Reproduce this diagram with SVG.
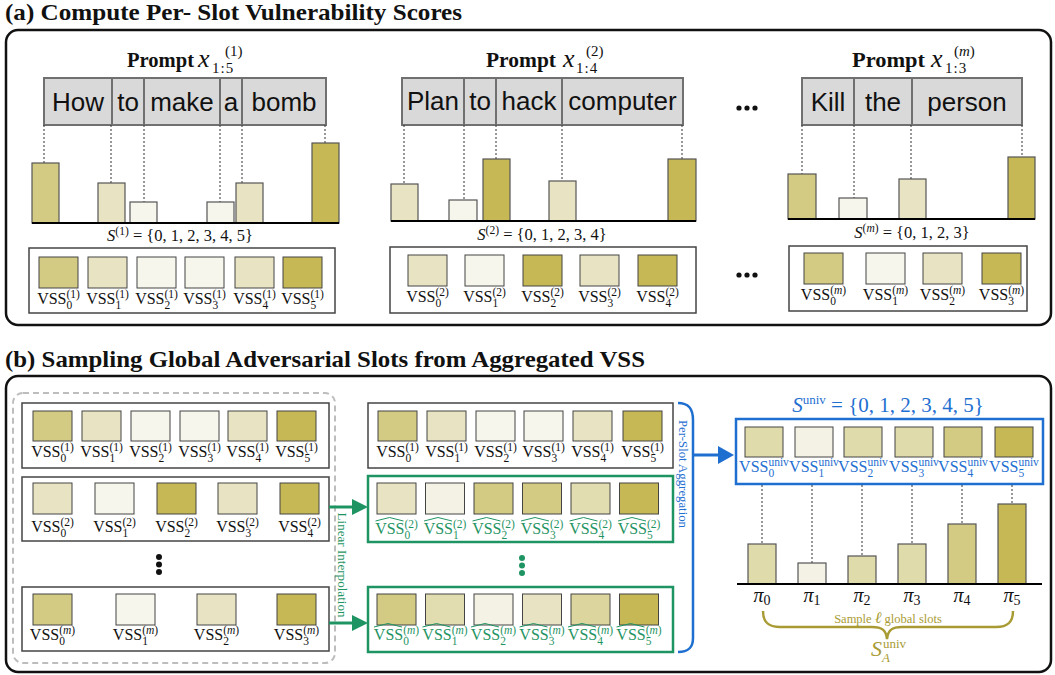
<svg xmlns="http://www.w3.org/2000/svg" width="1055" height="675" viewBox="0 0 1055 675">
<defs>
<style>
.panel{fill:none;stroke:#111;stroke-width:2.5}
.title{font-family:"Liberation Serif",serif;font-weight:bold;font-size:24px;fill:#111}
.pt{font-family:"Liberation Serif",serif;font-weight:bold;font-size:22px;fill:#111}
.mi{font-family:"Liberation Serif",serif;font-style:italic;fill:#111}
.mr{font-family:"Liberation Serif",serif;fill:#111}
.tok{fill:#d9d9d9;stroke:#707070;stroke-width:2}
.tw{font-family:"Liberation Sans",Arial,sans-serif;font-size:26px;fill:#111;text-anchor:middle}
.dl{stroke:#333;stroke-width:1;stroke-dasharray:2 2;fill:none}
.axis{stroke:#000;stroke-width:2}
.bar{stroke:#555;stroke-width:1.2}
.sw{stroke:#444;stroke-width:1}
.d{fill:#c6b955}.m{fill:#d3ca83}.l{fill:#e8e4c3}.v{fill:#f7f6ec}.u{fill:#e0dbab}.uv{fill:#f3f2e4}.lm{fill:#e2ddb0}.lm2{fill:#dcd59e}
.box{fill:#fff;stroke:#444;stroke-width:1.5}
.gbox{fill:#fff;stroke:#1f9463;stroke-width:2.5}
.bbox{fill:#fff;stroke:#1f6fd1;stroke-width:2.5}
.lab{font-family:"Liberation Serif",serif;font-size:16px;fill:#111;text-anchor:middle}
.glab{font-family:"Liberation Serif",serif;font-size:16px;fill:#1f9463;text-anchor:middle}
.blab{font-family:"Liberation Serif",serif;font-size:16px;fill:#1f6fd1;text-anchor:middle}
.s{font-size:11.5px}
.f{font-family:"Liberation Serif",serif;font-size:16.5px;fill:#111;text-anchor:middle}
.hat{fill:none;stroke:#1f9463;stroke-width:1}
.pi{font-family:"Liberation Serif",serif;font-size:20px;fill:#111;text-anchor:middle}
.olive{fill:#a99b34}
</style>
</defs>

<rect width="1055" height="675" fill="#fff"/>

<!-- Panel (a) -->
<g id="panel-a">
<text x="5" y="20" class="title" textLength="457" lengthAdjust="spacingAndGlyphs">(a) Compute Per- Slot Vulnerability Scores</text>
<rect x="6" y="30" width="1045" height="295" rx="12" class="panel"/>
</g>

<g id="prompt1">
<text x="127" y="67" class="pt" textLength="67" lengthAdjust="spacingAndGlyphs">Prompt</text>
<text x="198" y="67" class="mi" font-size="26">x</text>
<text x="225" y="56" class="mr" font-size="15">(1)</text>
<text x="212" y="73" class="mr" font-size="15" letter-spacing="1">1:5</text>
<rect x="44" y="78" width="282" height="47" class="tok"/>
<path d="M112,78V125M144,78V125M220,78V125M242,78V125" stroke="#707070" stroke-width="2"/>
<text x="78" y="111" class="tw">How</text>
<text x="128" y="111" class="tw">to</text>
<text x="182" y="111" class="tw">make</text>
<text x="231" y="111" class="tw">a</text>
<text x="284" y="111" class="tw">bomb</text>
<path class="dl" d="M44,125V163M111,125V183M144,125V202M220,125V202M242,125V183M325,125V143"/>
<rect x="32" y="163" width="27" height="60" class="bar m"/>
<rect x="98" y="183" width="27" height="40" class="bar l"/>
<rect x="130" y="202" width="27" height="21" class="bar v"/>
<rect x="207" y="202" width="27" height="21" class="bar v"/>
<rect x="236" y="183" width="27" height="40" class="bar l"/>
<rect x="312" y="143" width="27" height="80" class="bar d"/>
<line x1="32" y1="223" x2="339" y2="223" class="axis"/>
<text x="180" y="241" class="f"><tspan font-style="italic">S</tspan><tspan font-size="11.5" dy="-6">(1)</tspan><tspan dy="6"> = {0, 1, 2, 3, 4, 5}</tspan></text>
<rect x="29" y="248" width="306" height="65" class="box"/>
<rect x="39" y="257" width="39" height="31" class="sw m"/>
<rect x="88" y="257" width="39" height="31" class="sw l"/>
<rect x="137" y="257" width="39" height="31" class="sw v"/>
<rect x="185" y="257" width="39" height="31" class="sw v"/>
<rect x="235" y="257" width="39" height="31" class="sw l"/>
<rect x="283" y="257" width="39" height="31" class="sw d"/>
<text x="58.5" y="304" class="lab">VSS<tspan class="s" dy="5">0</tspan><tspan class="s" dx="-5.8" dy="-11">(1)</tspan></text>
<text x="107.5" y="304" class="lab">VSS<tspan class="s" dy="5">1</tspan><tspan class="s" dx="-5.8" dy="-11">(1)</tspan></text>
<text x="156.5" y="304" class="lab">VSS<tspan class="s" dy="5">2</tspan><tspan class="s" dx="-5.8" dy="-11">(1)</tspan></text>
<text x="204.5" y="304" class="lab">VSS<tspan class="s" dy="5">3</tspan><tspan class="s" dx="-5.8" dy="-11">(1)</tspan></text>
<text x="254.5" y="304" class="lab">VSS<tspan class="s" dy="5">4</tspan><tspan class="s" dx="-5.8" dy="-11">(1)</tspan></text>
<text x="302.5" y="304" class="lab">VSS<tspan class="s" dy="5">5</tspan><tspan class="s" dx="-5.8" dy="-11">(1)</tspan></text>
</g>

<g id="prompt2">
<text x="486" y="67" class="pt" textLength="70" lengthAdjust="spacingAndGlyphs">Prompt</text>
<text x="563" y="67" class="mi" font-size="26">x</text>
<text x="586" y="56" class="mr" font-size="15">(2)</text>
<text x="576" y="73" class="mr" font-size="15" letter-spacing="1">1:4</text>
<rect x="402" y="78" width="281" height="47" class="tok"/>
<path d="M464,78V125M496,78V125M562,78V125" stroke="#707070" stroke-width="2"/>
<text x="433" y="110" class="tw">Plan</text>
<text x="480" y="110" class="tw">to</text>
<text x="529" y="110" class="tw">hack</text>
<text x="622.5" y="110" class="tw">computer</text>
<path class="dl" d="M404,125V184M464,125V200M496,125V159M562,125V181M682,125V159"/>
<rect x="391" y="184" width="27" height="37" class="bar l"/>
<rect x="449" y="200" width="28" height="21" class="bar v"/>
<rect x="483" y="159" width="27" height="62" class="bar d"/>
<rect x="549" y="181" width="27" height="40" class="bar l"/>
<rect x="668" y="159" width="28" height="62" class="bar d"/>
<line x1="391" y1="221" x2="696" y2="221" class="axis"/>
<text x="542" y="240" class="f"><tspan font-style="italic">S</tspan><tspan font-size="11.5" dy="-6">(2)</tspan><tspan dy="6"> = {0, 1, 2, 3, 4}</tspan></text>
<rect x="390" y="247" width="306" height="66" class="box"/>
<rect x="408" y="255" width="39" height="31" class="sw l"/>
<rect x="465" y="255" width="39" height="31" class="sw v"/>
<rect x="523" y="255" width="39" height="31" class="sw d"/>
<rect x="580" y="255" width="39" height="31" class="sw l"/>
<rect x="638" y="255" width="39" height="31" class="sw d"/>
<text x="427.5" y="302" class="lab">VSS<tspan class="s" dy="5">0</tspan><tspan class="s" dx="-5.8" dy="-11">(2)</tspan></text>
<text x="484.5" y="302" class="lab">VSS<tspan class="s" dy="5">1</tspan><tspan class="s" dx="-5.8" dy="-11">(2)</tspan></text>
<text x="542.5" y="302" class="lab">VSS<tspan class="s" dy="5">2</tspan><tspan class="s" dx="-5.8" dy="-11">(2)</tspan></text>
<text x="599.5" y="302" class="lab">VSS<tspan class="s" dy="5">3</tspan><tspan class="s" dx="-5.8" dy="-11">(2)</tspan></text>
<text x="657.5" y="302" class="lab">VSS<tspan class="s" dy="5">4</tspan><tspan class="s" dx="-5.8" dy="-11">(2)</tspan></text>
</g>

<g id="ellipsis-a">
<circle cx="739" cy="108" r="2.6" fill="#111"/><circle cx="747" cy="108" r="2.6" fill="#111"/><circle cx="755" cy="108" r="2.6" fill="#111"/>
<circle cx="739" cy="275" r="2.6" fill="#111"/><circle cx="747" cy="275" r="2.6" fill="#111"/><circle cx="755" cy="275" r="2.6" fill="#111"/>
</g>

<g id="promptm">
<text x="852" y="67" class="pt" textLength="73" lengthAdjust="spacingAndGlyphs">Prompt</text>
<text x="931" y="67" class="mi" font-size="26">x</text>
<text x="954" y="56" class="mr" font-size="15">(<tspan font-style="italic">m</tspan>)</text>
<text x="945" y="73" class="mr" font-size="15" letter-spacing="1">1:3</text>
<rect x="802" y="78" width="220" height="47" class="tok"/>
<path d="M854,78V125M912,78V125" stroke="#707070" stroke-width="2"/>
<text x="828" y="111" class="tw">Kill</text>
<text x="883" y="111" class="tw">the</text>
<text x="967" y="111" class="tw">person</text>
<path class="dl" d="M802,125V174M854,125V198M911,125V179M1022,125V157"/>
<rect x="788" y="174" width="28" height="45" class="bar m"/>
<rect x="839" y="198" width="28" height="21" class="bar v"/>
<rect x="899" y="179" width="27" height="40" class="bar l"/>
<rect x="1008" y="157" width="27" height="62" class="bar d"/>
<line x1="788" y1="219" x2="1035" y2="219" class="axis"/>
<text x="912" y="238" class="f"><tspan font-style="italic">S</tspan><tspan font-size="11.5" dy="-6">(<tspan font-style="italic">m</tspan>)</tspan><tspan dy="6"> = {0, 1, 2, 3}</tspan></text>
<rect x="789" y="246" width="238" height="65" class="box"/>
<rect x="804" y="253" width="39" height="31" class="sw m"/>
<rect x="866" y="253" width="39" height="31" class="sw v"/>
<rect x="923" y="253" width="39" height="31" class="sw l"/>
<rect x="982" y="253" width="39" height="31" class="sw d"/>
<text x="823.5" y="300" class="lab">VSS<tspan class="s" dy="5">0</tspan><tspan class="s" dx="-5.8" dy="-11">(<tspan font-style="italic">m</tspan>)</tspan></text>
<text x="885.5" y="300" class="lab">VSS<tspan class="s" dy="5">1</tspan><tspan class="s" dx="-5.8" dy="-11">(<tspan font-style="italic">m</tspan>)</tspan></text>
<text x="942.5" y="300" class="lab">VSS<tspan class="s" dy="5">2</tspan><tspan class="s" dx="-5.8" dy="-11">(<tspan font-style="italic">m</tspan>)</tspan></text>
<text x="1001.5" y="300" class="lab">VSS<tspan class="s" dy="5">3</tspan><tspan class="s" dx="-5.8" dy="-11">(<tspan font-style="italic">m</tspan>)</tspan></text>
</g>

<!-- Panel (b) -->
<g id="panel-b">
<text x="5" y="367" class="title" textLength="640" lengthAdjust="spacingAndGlyphs">(b) Sampling Global Adversarial Slots from Aggregated VSS</text>
<rect x="6" y="376" width="1045" height="296" rx="12" class="panel"/>
<rect x="13" y="393" width="322" height="270" rx="10" fill="none" stroke="#bdbdbd" stroke-width="2" stroke-dasharray="6 4"/>
</g>

<g id="left-row1">
<rect x="22" y="403" width="307" height="65" class="box"/>
<rect x="33" y="411" width="39" height="30" class="sw m"/>
<rect x="82" y="411" width="39" height="30" class="sw l"/>
<rect x="131" y="411" width="39" height="30" class="sw v"/>
<rect x="180" y="411" width="39" height="30" class="sw v"/>
<rect x="228" y="411" width="39" height="30" class="sw l"/>
<rect x="277" y="411" width="39" height="30" class="sw d"/>
<text x="52.5" y="457" class="lab">VSS<tspan class="s" dy="5">0</tspan><tspan class="s" dx="-5.8" dy="-11">(1)</tspan></text>
<text x="101.5" y="457" class="lab">VSS<tspan class="s" dy="5">1</tspan><tspan class="s" dx="-5.8" dy="-11">(1)</tspan></text>
<text x="150.5" y="457" class="lab">VSS<tspan class="s" dy="5">2</tspan><tspan class="s" dx="-5.8" dy="-11">(1)</tspan></text>
<text x="199.5" y="457" class="lab">VSS<tspan class="s" dy="5">3</tspan><tspan class="s" dx="-5.8" dy="-11">(1)</tspan></text>
<text x="247.5" y="457" class="lab">VSS<tspan class="s" dy="5">4</tspan><tspan class="s" dx="-5.8" dy="-11">(1)</tspan></text>
<text x="296.5" y="457" class="lab">VSS<tspan class="s" dy="5">5</tspan><tspan class="s" dx="-5.8" dy="-11">(1)</tspan></text>
</g>

<g id="left-row2">
<rect x="22" y="477" width="307" height="64" class="box"/>
<rect x="33" y="483" width="39" height="31" class="sw l"/>
<rect x="95" y="483" width="39" height="31" class="sw v"/>
<rect x="157" y="483" width="39" height="31" class="sw d"/>
<rect x="218" y="483" width="39" height="31" class="sw l"/>
<rect x="280" y="483" width="39" height="31" class="sw d"/>
<text x="52.5" y="532" class="lab">VSS<tspan class="s" dy="5">0</tspan><tspan class="s" dx="-5.8" dy="-11">(2)</tspan></text>
<text x="114.5" y="532" class="lab">VSS<tspan class="s" dy="5">1</tspan><tspan class="s" dx="-5.8" dy="-11">(2)</tspan></text>
<text x="176.5" y="532" class="lab">VSS<tspan class="s" dy="5">2</tspan><tspan class="s" dx="-5.8" dy="-11">(2)</tspan></text>
<text x="237.5" y="532" class="lab">VSS<tspan class="s" dy="5">3</tspan><tspan class="s" dx="-5.8" dy="-11">(2)</tspan></text>
<text x="299.5" y="532" class="lab">VSS<tspan class="s" dy="5">4</tspan><tspan class="s" dx="-5.8" dy="-11">(2)</tspan></text>
</g>

<g id="left-dots">
<circle cx="159" cy="557" r="3" fill="#111"/><circle cx="159" cy="564.5" r="3" fill="#111"/><circle cx="159" cy="572" r="3" fill="#111"/>
</g>

<g id="left-rowm">
<rect x="22" y="587" width="307" height="64" class="box"/>
<rect x="33" y="594" width="39" height="31" class="sw m"/>
<rect x="116" y="594" width="39" height="31" class="sw v"/>
<rect x="197" y="594" width="39" height="31" class="sw l"/>
<rect x="277" y="594" width="39" height="31" class="sw d"/>
<text x="52.5" y="640" class="lab">VSS<tspan class="s" dy="5">0</tspan><tspan class="s" dx="-5.8" dy="-11">(<tspan font-style="italic">m</tspan>)</tspan></text>
<text x="135.5" y="640" class="lab">VSS<tspan class="s" dy="5">1</tspan><tspan class="s" dx="-5.8" dy="-11">(<tspan font-style="italic">m</tspan>)</tspan></text>
<text x="216.5" y="640" class="lab">VSS<tspan class="s" dy="5">2</tspan><tspan class="s" dx="-5.8" dy="-11">(<tspan font-style="italic">m</tspan>)</tspan></text>
<text x="296.5" y="640" class="lab">VSS<tspan class="s" dy="5">3</tspan><tspan class="s" dx="-5.8" dy="-11">(<tspan font-style="italic">m</tspan>)</tspan></text>
</g>

<g id="mid-row1">
<rect x="368" y="403" width="305" height="65" class="box"/>
<rect x="378" y="411" width="39" height="30" class="sw m"/>
<rect x="427" y="411" width="39" height="30" class="sw l"/>
<rect x="476" y="411" width="39" height="30" class="sw v"/>
<rect x="524" y="411" width="39" height="30" class="sw v"/>
<rect x="573" y="411" width="39" height="30" class="sw l"/>
<rect x="623" y="411" width="39" height="30" class="sw d"/>
<text x="397.5" y="457" class="lab">VSS<tspan class="s" dy="5">0</tspan><tspan class="s" dx="-5.8" dy="-11">(1)</tspan></text>
<text x="446.5" y="457" class="lab">VSS<tspan class="s" dy="5">1</tspan><tspan class="s" dx="-5.8" dy="-11">(1)</tspan></text>
<text x="495.5" y="457" class="lab">VSS<tspan class="s" dy="5">2</tspan><tspan class="s" dx="-5.8" dy="-11">(1)</tspan></text>
<text x="543.5" y="457" class="lab">VSS<tspan class="s" dy="5">3</tspan><tspan class="s" dx="-5.8" dy="-11">(1)</tspan></text>
<text x="592.5" y="457" class="lab">VSS<tspan class="s" dy="5">4</tspan><tspan class="s" dx="-5.8" dy="-11">(1)</tspan></text>
<text x="642.5" y="457" class="lab">VSS<tspan class="s" dy="5">5</tspan><tspan class="s" dx="-5.8" dy="-11">(1)</tspan></text>
</g>

<g id="mid-row2-interp">
<rect x="368" y="476" width="305" height="66" class="gbox"/>
<rect x="377" y="483" width="39" height="31" class="sw l"/>
<rect x="425.5" y="483" width="39" height="31" class="sw uv"/>
<rect x="474" y="483" width="39" height="31" class="sw m"/>
<rect x="522.5" y="483" width="39" height="31" class="sw m"/>
<rect x="571" y="483" width="39" height="31" class="sw lm"/>
<rect x="619.5" y="483" width="39" height="31" class="sw d"/>
<path class="hat" d="M375.5,521L389.5,517.5L403.5,521M424,521L438,517.5L452,521M472.5,521L486.5,517.5L500.5,521M521,521L535,517.5L549,521M569.5,521L583.5,517.5L597.5,521M618,521L632,517.5L646,521"/>
<text x="396.5" y="534" class="glab">VSS<tspan class="s" dy="5">0</tspan><tspan class="s" dx="-5.8" dy="-11">(2)</tspan></text>
<text x="445" y="534" class="glab">VSS<tspan class="s" dy="5">1</tspan><tspan class="s" dx="-5.8" dy="-11">(2)</tspan></text>
<text x="493.5" y="534" class="glab">VSS<tspan class="s" dy="5">2</tspan><tspan class="s" dx="-5.8" dy="-11">(2)</tspan></text>
<text x="542" y="534" class="glab">VSS<tspan class="s" dy="5">3</tspan><tspan class="s" dx="-5.8" dy="-11">(2)</tspan></text>
<text x="590.5" y="534" class="glab">VSS<tspan class="s" dy="5">4</tspan><tspan class="s" dx="-5.8" dy="-11">(2)</tspan></text>
<text x="639" y="534" class="glab">VSS<tspan class="s" dy="5">5</tspan><tspan class="s" dx="-5.8" dy="-11">(2)</tspan></text>
</g>

<g id="mid-dots">
<circle cx="522" cy="558" r="3" fill="#1f9463"/><circle cx="522" cy="565.5" r="3" fill="#1f9463"/><circle cx="522" cy="573" r="3" fill="#1f9463"/>
</g>

<g id="mid-rowm-interp">
<rect x="368" y="587" width="305" height="65" class="gbox"/>
<rect x="377" y="594" width="39" height="31" class="sw m"/>
<rect x="425.5" y="594" width="39" height="31" class="sw lm"/>
<rect x="474" y="594" width="39" height="31" class="sw uv"/>
<rect x="522.5" y="594" width="39" height="31" class="sw l"/>
<rect x="571" y="594" width="39" height="31" class="sw lm2"/>
<rect x="619.5" y="594" width="39" height="31" class="sw d"/>
<path class="hat" d="M374,627L388,623.5L402,627M422.5,627L436.5,623.5L450.5,627M471,627L485,623.5L499,627M519.5,627L533.5,623.5L547.5,627M568,627L582,623.5L596,627M616.5,627L630.5,623.5L644.5,627"/>
<text x="396.5" y="640" class="glab">VSS<tspan class="s" dy="5">0</tspan><tspan class="s" dx="-5.8" dy="-11">(<tspan font-style="italic">m</tspan>)</tspan></text>
<text x="445" y="640" class="glab">VSS<tspan class="s" dy="5">1</tspan><tspan class="s" dx="-5.8" dy="-11">(<tspan font-style="italic">m</tspan>)</tspan></text>
<text x="493.5" y="640" class="glab">VSS<tspan class="s" dy="5">2</tspan><tspan class="s" dx="-5.8" dy="-11">(<tspan font-style="italic">m</tspan>)</tspan></text>
<text x="542" y="640" class="glab">VSS<tspan class="s" dy="5">3</tspan><tspan class="s" dx="-5.8" dy="-11">(<tspan font-style="italic">m</tspan>)</tspan></text>
<text x="590.5" y="640" class="glab">VSS<tspan class="s" dy="5">4</tspan><tspan class="s" dx="-5.8" dy="-11">(<tspan font-style="italic">m</tspan>)</tspan></text>
<text x="639" y="640" class="glab">VSS<tspan class="s" dy="5">5</tspan><tspan class="s" dx="-5.8" dy="-11">(<tspan font-style="italic">m</tspan>)</tspan></text>
</g>

<g id="univ">
<text x="888" y="412" font-family="Liberation Serif, serif" font-size="21" fill="#1f6fd1" text-anchor="middle"><tspan font-style="italic">S</tspan><tspan font-size="13" dy="-8">univ</tspan><tspan dy="8"> = {0, 1, 2, 3, 4, 5}</tspan></text>
<rect x="736" y="419" width="307" height="65" class="bbox"/>
<rect x="745" y="427" width="38" height="30" class="sw u"/>
<rect x="795" y="427" width="38" height="30" class="sw uv"/>
<rect x="844" y="427" width="38" height="30" class="sw u"/>
<rect x="895" y="427" width="38" height="30" class="sw u"/>
<rect x="944" y="427" width="38" height="30" class="sw m"/>
<rect x="995" y="427" width="38" height="30" class="sw d"/>
<text x="764" y="472" class="blab">VSS<tspan class="s" dy="5">0</tspan><tspan class="s" dx="-5.8" dy="-11">univ</tspan></text>
<text x="814" y="472" class="blab">VSS<tspan class="s" dy="5">1</tspan><tspan class="s" dx="-5.8" dy="-11">univ</tspan></text>
<text x="863" y="472" class="blab">VSS<tspan class="s" dy="5">2</tspan><tspan class="s" dx="-5.8" dy="-11">univ</tspan></text>
<text x="914" y="472" class="blab">VSS<tspan class="s" dy="5">3</tspan><tspan class="s" dx="-5.8" dy="-11">univ</tspan></text>
<text x="963" y="472" class="blab">VSS<tspan class="s" dy="5">4</tspan><tspan class="s" dx="-5.8" dy="-11">univ</tspan></text>
<text x="1014" y="472" class="blab">VSS<tspan class="s" dy="5">5</tspan><tspan class="s" dx="-5.8" dy="-11">univ</tspan></text>
</g>

<g id="univ-bars">
<path class="dl" d="M762,485V544M812,485V563M862,485V556M912,485V544M962,485V524M1012,485V504"/>
<rect x="748" y="544" width="28" height="40" class="bar u"/>
<rect x="798" y="563" width="28" height="21" class="bar uv"/>
<rect x="848" y="556" width="28" height="28" class="bar u"/>
<rect x="898" y="544" width="28" height="40" class="bar u"/>
<rect x="948" y="524" width="28" height="60" class="bar m"/>
<rect x="998" y="504" width="28" height="80" class="bar d"/>
<line x1="737" y1="584" x2="1042" y2="584" class="axis"/>
<text x="762" y="602" class="pi"><tspan font-style="italic">π</tspan><tspan font-size="14" dy="3">0</tspan></text>
<text x="812" y="602" class="pi"><tspan font-style="italic">π</tspan><tspan font-size="14" dy="3">1</tspan></text>
<text x="862" y="602" class="pi"><tspan font-style="italic">π</tspan><tspan font-size="14" dy="3">2</tspan></text>
<text x="912" y="602" class="pi"><tspan font-style="italic">π</tspan><tspan font-size="14" dy="3">3</tspan></text>
<text x="962" y="602" class="pi"><tspan font-style="italic">π</tspan><tspan font-size="14" dy="3">4</tspan></text>
<text x="1012" y="602" class="pi"><tspan font-style="italic">π</tspan><tspan font-size="14" dy="3">5</tspan></text>
</g>

<g id="sample">
<path d="M763,611C763,622 768,627 780,627L872,627C882,627 886,630 887,639C888,630 892,627 902,627L996,627C1008,627 1013,622 1013,611" fill="none" stroke="#a99b34" stroke-width="2.5"/>
<text x="888" y="623" font-family="Liberation Serif, serif" font-size="12.5" class="olive" text-anchor="middle">Sample <tspan font-style="italic" font-size="16">ℓ</tspan> global slots</text>
<text x="871" y="656" font-family="Liberation Serif, serif" font-size="22" font-style="italic" class="olive">S</text>
<text x="883" y="648" font-family="Liberation Serif, serif" font-size="13" class="olive">univ</text>
<text x="882" y="662" font-family="Liberation Serif, serif" font-size="13" font-style="italic" class="olive">A</text>
</g>

<g id="connectors">
<line x1="329" y1="507" x2="354" y2="507" stroke="#1f9463" stroke-width="3"/>
<polygon points="352,499 368,507 352,515" fill="#1f9463"/>
<line x1="329" y1="623" x2="354" y2="623" stroke="#1f9463" stroke-width="3"/>
<polygon points="352,615 368,623 352,631" fill="#1f9463"/>
<text x="342" y="565" transform="rotate(90 342 565)" font-family="Liberation Serif, serif" font-size="13" fill="#1f9463" text-anchor="middle" dominant-baseline="central" textLength="105" lengthAdjust="spacingAndGlyphs">Linear Interpolation</text>
<path d="M678,403C689,403 693,409 693,420L693,638C693,647 689,652 678,652" fill="none" stroke="#1f6fd1" stroke-width="2.5"/>
<text x="683" y="474" transform="rotate(90 683 474)" font-family="Liberation Serif, serif" font-size="13" fill="#1f6fd1" text-anchor="middle" dominant-baseline="central" textLength="108" lengthAdjust="spacingAndGlyphs">Per-Slot Aggregation</text>
<line x1="693" y1="455" x2="720" y2="455" stroke="#1f6fd1" stroke-width="3"/>
<polygon points="718,446 734,455 718,464" fill="#1f6fd1"/>
</g>
</svg>
